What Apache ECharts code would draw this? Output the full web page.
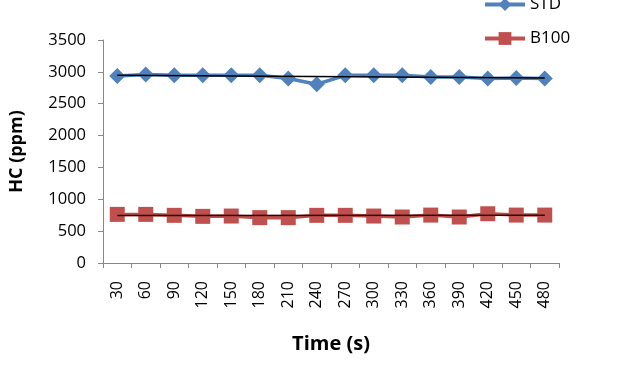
<!DOCTYPE html>
<html>
<head>
<meta charset="utf-8">
<script src="https://cdn.jsdelivr.net/npm/echarts@6/dist/echarts.min.js"></script>
<style>
  html, body { margin: 0; padding: 0; background: #fff; }
  #chart { width: 620px; height: 368px; }
</style>
</head>
<body>
<div id="chart"></div>
<script>
// 时间 (s)
var times = ["30", "60", "90", "120", "150", "180", "210", "240", "270", "300", "330", "360", "390", "420", "450", "480"];
// HC (ppm)
var stdValues = [2935, 2960, 2945, 2945, 2945, 2945, 2895, 2805, 2945, 2945, 2945, 2920, 2920, 2895, 2905, 2895];
var b100Values = [763, 763, 748, 732, 737, 712, 712, 748, 748, 737, 722, 752, 722, 773, 752, 752];
// 趋势线端点
var stdTrend = [2945, 2905];
var b100Trend = [745, 750];
var yTicks = [0, 3500, 500];

var font = "'Open Sans', 'Liberation Sans', sans-serif";

function trendData(ends) {
	return [[times[0], ends[0]], [times[times.length - 1], ends[1]]];
}

var chart = echarts.init(document.getElementById("chart"));
var option = {
	animation: false,
	textStyle: { fontFamily: font },
	grid: { left: 101, right: 61, top: 40, bottom: 105 },
	legend: {
		orient: "vertical",
		left: 478,
		top: -9,
		itemGap: 17,
		itemWidth: 40,
		itemHeight: 16,
		data: ["STD", "B100"],
		lineStyle: { width: 4 },
		textStyle: { fontSize: 17, color: "#000", fontFamily: font }
	},
	xAxis: {
		type: "category",
		data: times,
		name: "Time (s)",
		nameLocation: "middle",
		nameGap: 71,
		nameTextStyle: { fontSize: 20, fontWeight: "bold", color: "#000", fontFamily: font },
		axisLine: { lineStyle: { color: "#888", width: 1 } },
		axisTick: { show: true, length: 5, lineStyle: { color: "#888" } },
		axisLabel: { rotate: 90, fontSize: 16, color: "#000", margin: 18, fontFamily: font }
	},
	yAxis: {
		type: "value",
		min: yTicks[0],
		max: yTicks[1],
		interval: yTicks[2],
		name: "HC (ppm)",
		nameLocation: "middle",
		nameGap: 77,
		nameTextStyle: { fontSize: 18, fontWeight: "bold", color: "#000", fontFamily: font },
		splitLine: { show: false },
		axisLine: { show: true, lineStyle: { color: "#888", width: 1 } },
		axisTick: { show: true, length: 5, lineStyle: { color: "#888" } },
		axisLabel: {
			fontSize: 16.5, color: "#000", margin: 17, fontFamily: font,
			formatter: function (v) { return String(v); }
		}
	},
	series: [{
		name: "STD",
		type: "line",
		data: stdValues,
		symbol: "diamond",
		symbolSize: 16,
		itemStyle: { color: "#4F81BD" },
		lineStyle: { color: "#4F81BD", width: 3.5 },
		z: 2
	}, {
		name: "B100",
		type: "line",
		data: b100Values,
		symbol: "rect",
		symbolSize: 15,
		itemStyle: { color: "#C0504D" },
		lineStyle: { color: "#C0504D", width: 3.5 },
		z: 2
	}, {
		name: "STD trend",
		type: "line",
		data: trendData(stdTrend),
		symbol: "none",
		lineStyle: { color: "#000", width: 1.5 },
		z: 5
	}, {
		name: "B100 trend",
		type: "line",
		data: trendData(b100Trend),
		symbol: "none",
		lineStyle: { color: "#300", width: 1.5 },
		z: 5
	}]
};
chart.setOption(option);
</script>
</body>
</html>
